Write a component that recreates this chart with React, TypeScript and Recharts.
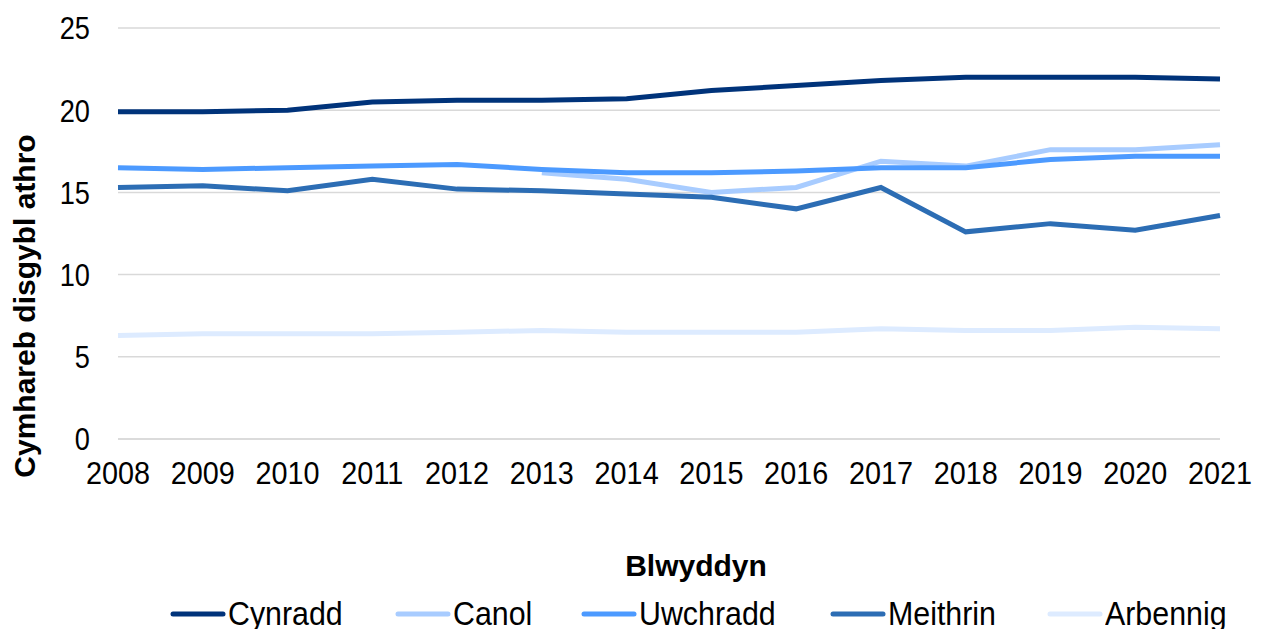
import { LineChart, Line, XAxis, YAxis, CartesianGrid, Label } from 'recharts';

const YEARS = ['2008', '2009', '2010', '2011', '2012', '2013', '2014', '2015', '2016', '2017', '2018', '2019', '2020', '2021'];

const CYNRADD = [19.9, 19.9, 20.0, 20.5, 20.6, 20.6, 20.7, 21.2, 21.5, 21.8, 22.0, 22.0, 22.0, 21.9];
const CANOL = [null, null, null, null, null, 16.2, 15.8, 15.0, 15.3, 16.9, 16.6, 17.6, 17.6, 17.9];
const UWCHRADD = [16.5, 16.4, 16.5, 16.6, 16.7, 16.4, 16.2, 16.2, 16.3, 16.5, 16.5, 17.0, 17.2, 17.2];
const MEITHRIN = [15.3, 15.4, 15.1, 15.8, 15.2, 15.1, 14.9, 14.7, 14.0, 15.3, 12.6, 13.1, 12.7, 13.6];
const ARBENNIG = [6.3, 6.4, 6.4, 6.4, 6.5, 6.6, 6.5, 6.5, 6.5, 6.7, 6.6, 6.6, 6.8, 6.7];

const Y_TICKS = [0, 5, 10, 15, 20, 25];

const SERIES = [
    { key: 'Cynradd', color: '#00337a' },
    { key: 'Canol', color: '#a8ccff' },
    { key: 'Uwchradd', color: '#4c9aff' },
    { key: 'Meithrin', color: '#2c6db4' },
    { key: 'Arbennig', color: '#ddebff' },
];

const data = YEARS.map((year, i) => ({
    year,
    Cynradd: CYNRADD[i],
    Canol: CANOL[i],
    Uwchradd: UWCHRADD[i],
    Meithrin: MEITHRIN[i],
    Arbennig: ARBENNIG[i],
}));

const FONT = '"Liberation Sans", Arial, sans-serif';

// reference text is a bit condensed, squeeze it horizontally
const XTick = ({ x, y, payload }: any) => (
    <g transform={`translate(${x},${y}) scale(0.9,1)`}>
        <text x={0} y={0} dy="0.71em" textAnchor="middle" fontFamily={FONT} fontSize={32} fill="#000">
            {payload.value}
        </text>
    </g>
);

const YTick = ({ x, y, payload }: any) => (
    <g transform={`translate(${x},${y}) scale(0.85,1)`}>
        <text x={0} y={0} dy="0.355em" textAnchor="end" fontFamily={FONT} fontSize={32} fill="#000">
            {payload.value}
        </text>
    </g>
);

const ChartLegend = () => (
    <div
        style={{
            position: 'absolute', left: 0, top: 595, width: 1400,
            display: 'flex', justifyContent: 'center', gap: 50,
            fontFamily: FONT, fontSize: 33, color: '#000',
        }}
    >
        {SERIES.map((s) => (
            <div key={s.key} style={{ display: 'flex', alignItems: 'center' }}>
                <svg width={56} height={10} style={{ marginRight: 2 }}>
                    <line x1={3} y1={5} x2={53} y2={5} stroke={s.color} strokeWidth={5} strokeLinecap="round" />
                </svg>
                <span style={{ lineHeight: '38px', display: 'inline-block', transform: 'scaleX(0.92)', transformOrigin: 'left center', marginRight: -8 }}>
                    {s.key}
                </span>
            </div>
        ))}
    </div>
);

const App = () => {
    return (
        <div style={{ position: 'absolute', left: 0, top: 0, width: 1264, height: 629, background: '#fff', overflow: 'hidden' }}>
            <LineChart width={1264} height={629} data={data} margin={{ top: 28, right: 44, left: 38, bottom: 40 }}>
                <CartesianGrid vertical={false} stroke="#d9d9d9" strokeWidth={1.5} />
                <XAxis
                    dataKey="year"
                    height={150}
                    axisLine={{ stroke: '#d9d9d9', strokeWidth: 1.5 }}
                    tickLine={false}
                    tickMargin={16}
                    interval={0}
                    tick={<XTick />}
                >
                    <Label
                        content={() => (
                            <text x={696} y={576} textAnchor="middle" fontFamily={FONT} fontWeight="bold" fontSize={30} fill="#000">
                                Blwyddyn
                            </text>
                        )}
                    />
                </XAxis>
                <YAxis
                    width={80}
                    domain={[0, 25]}
                    ticks={Y_TICKS}
                    axisLine={false}
                    tickLine={false}
                    tickMargin={22}
                    tick={<YTick />}
                >
                    <Label
                        content={() => (
                            <text x={35} y={306} transform="rotate(-90 35 306)" textAnchor="middle" fontFamily={FONT} fontWeight="bold" fontSize={30} fill="#000">
                                Cymhareb disgybl athro
                            </text>
                        )}
                    />
                </YAxis>
                {SERIES.map((s) => (
                    <Line
                        key={s.key}
                        type="linear"
                        dataKey={s.key}
                        stroke={s.color}
                        strokeWidth={5}
                        dot={false}
                        activeDot={false}
                        isAnimationActive={false}
                    />
                ))}
            </LineChart>
            <ChartLegend />
        </div>
    );
};

export default App;
